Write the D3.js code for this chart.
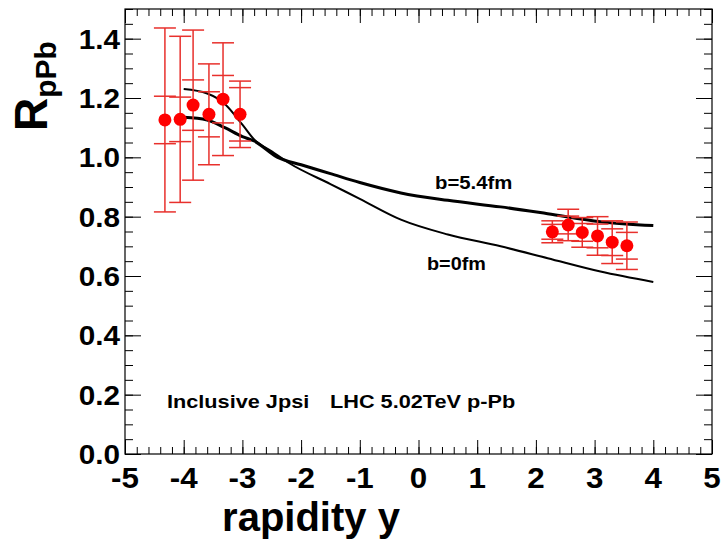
<!DOCTYPE html>
<html>
<head>
<meta charset="utf-8">
<script src="https://cdn.jsdelivr.net/npm/d3@7"></script>
<style>
  body { margin: 0; background: #fff; }
  text { font-family: "Liberation Sans", Arial, sans-serif; font-weight: bold; }
</style>
</head>
<body>
<div id="my_dataviz"></div>
<script>
// Data
var leftRap = [-4.32, -4.06, -3.84, -3.57, -3.33, -3.04];
var leftR = [1.126, 1.128, 1.176, 1.145, 1.196, 1.145];
var leftInner = [0.08, 0.075, 0.085, 0.076, 0.08, 0.09];
var leftOuter = [0.31, 0.28, 0.253, 0.17, 0.19, 0.112];

var rightRap = [2.28, 2.55, 2.79, 3.05, 3.30, 3.55];
var rightR = [0.749, 0.772, 0.747, 0.735, 0.714, 0.702];
var rightInner = [0.025, 0.03, 0.03, 0.04, 0.045, 0.045];
var rightOuter = [0.037, 0.053, 0.05, 0.065, 0.072, 0.08];

// model curves
var b0Rap = [-4, -3.6, -3.3, -3.0, -2.8, -2.5, -2.2, -1.5, -1, -0.3, 0.5, 1.4, 2.2, 3.1, 4];
var b0R = [1.23, 1.215, 1.18, 1.11, 1.06, 1.02, 0.98, 0.91, 0.86, 0.79, 0.74, 0.70, 0.66, 0.615, 0.58];
var b54Rap = [-4, -3.6, -3.3, -3.0, -2.8, -2.4, -2.0, -1.5, -1, -0.3, 0.5, 1.4, 2.2, 3.1, 4];
var b54R = [1.135, 1.126, 1.10, 1.07, 1.055, 1.0, 0.975, 0.945, 0.915, 0.88, 0.855, 0.833, 0.81, 0.783, 0.77];

var xTicks = [-5, -4, -3, -2, -1, 0, 1, 2, 3, 4, 5];
var yTicks = [0, 0.2, 0.4, 0.6, 0.8, 1.0, 1.2, 1.4];

// canvas and frame
var margin = { top: 9, right: 16, bottom: 90, left: 125 },
    width = 728 - margin.left - margin.right,
    height = 544 - margin.top - margin.bottom;

var root = d3.select("#my_dataviz")
    .append("svg")
    .attr("width", 728)
    .attr("height", 544);
var svg = root.append("g")
    .attr("transform", "translate(" + margin.left + "," + margin.top + ")");

var x = d3.scaleLinear().domain([-5, 5]).range([0, width]);
var y = d3.scaleLinear().domain([0, 1.5]).range([height, 0]);

// the original picture is a bit wider than tall, so text gets stretched sideways
function place(sel, px, py, sx) {
    return sel.attr("transform", "translate(" + px + "," + py + ") scale(" + sx + ",1)");
}

// ticks on all four sides, pointing inwards
function drawTicks(axisFn, scale, vals, size, transform) {
    svg.append("g")
        .attr("class", "ticks")
        .attr("transform", transform)
        .call(axisFn(scale).tickValues(vals).tickSize(size).tickFormat(""))
        .call(g => g.select(".domain").remove())
        .selectAll("line").attr("stroke", "#000").attr("stroke-width", 1);
}
var xMinor = d3.range(-5, 5.001, 0.2).map(v => +v.toFixed(2));
var yMinor = d3.range(0, 1.501, 0.05).map(v => +v.toFixed(2));
drawTicks(d3.axisTop, x, xMinor, 7, "translate(0," + height + ")");
drawTicks(d3.axisTop, x, xTicks, 14, "translate(0," + height + ")");
drawTicks(d3.axisBottom, x, xMinor, 7, "translate(0,0)");
drawTicks(d3.axisBottom, x, xTicks, 14, "translate(0,0)");
drawTicks(d3.axisRight, y, yMinor, 8, "translate(0,0)");
drawTicks(d3.axisRight, y, yTicks, 16, "translate(0,0)");
drawTicks(d3.axisLeft, y, yMinor, 8, "translate(" + width + ",0)");
drawTicks(d3.axisLeft, y, yTicks, 16, "translate(" + width + ",0)");

svg.append("rect")
    .attr("width", width)
    .attr("height", height)
    .attr("fill", "none")
    .attr("stroke", "#000")
    .attr("stroke-width", 1.2);

// tick labels
svg.selectAll(".xlab")
    .data(xTicks)
    .join("text")
    .attr("class", "xlab")
    .each(function (d) { place(d3.select(this), x(d), height + 34, 1.08); })
    .attr("text-anchor", "middle")
    .style("font-size", "29px")
    .text(d => d);

svg.selectAll(".ylab")
    .data(yTicks)
    .join("text")
    .attr("class", "ylab")
    .each(function (d) { place(d3.select(this), -5, y(d) + 10, 1.1); })
    .attr("text-anchor", "end")
    .style("font-size", "27px")
    .text(d => d3.format(".1f")(d));

// axis titles
root.append("text")
    .attr("x", 311)
    .attr("y", 531)
    .attr("text-anchor", "middle")
    .style("font-size", "40px")
    .text("rapidity y");

var yt = root.append("text")
    .attr("transform", "translate(47,86) rotate(-90)")
    .attr("text-anchor", "middle");
yt.append("tspan").style("font-size", "46px").text("R");
yt.append("tspan").attr("dy", 9).style("font-size", "30px").text("pPb");

// model curves
var line = d3.line()
    .x(d => x(d[0]))
    .y(d => y(d[1]))
    .curve(d3.curveMonotoneX);

svg.append("path")
    .datum(d3.zip(b0Rap, b0R))
    .attr("d", line)
    .attr("fill", "none")
    .attr("stroke", "#000")
    .attr("stroke-width", 2);
svg.append("path")
    .datum(d3.zip(b54Rap, b54R))
    .attr("d", line)
    .attr("fill", "none")
    .attr("stroke", "#000")
    .attr("stroke-width", 3);

// data points with two sets of error bars
var points = d3.zip(leftRap, leftR, leftInner, leftOuter)
    .concat(d3.zip(rightRap, rightR, rightInner, rightOuter));
var capW = 11;
var eb = svg.append("g").attr("stroke", "#e8302c").attr("stroke-width", 1.5);
eb.selectAll(".vbar")
    .data(points)
    .join("line")
    .attr("x1", d => x(d[0])).attr("x2", d => x(d[0]))
    .attr("y1", d => y(d[1] + d[3])).attr("y2", d => y(d[1] - d[3]));
var caps = [];
points.forEach(d => {
    caps.push([d[0], d[1] + d[2]], [d[0], d[1] - d[2]], [d[0], d[1] + d[3]], [d[0], d[1] - d[3]]);
});
eb.selectAll(".cap")
    .data(caps)
    .join("line")
    .attr("x1", d => x(d[0]) - capW).attr("x2", d => x(d[0]) + capW)
    .attr("y1", d => y(d[1])).attr("y2", d => y(d[1]));

svg.selectAll("circle")
    .data(points)
    .join("circle")
    .attr("cx", d => x(d[0]))
    .attr("cy", d => y(d[1]))
    .attr("r", 6.5)
    .attr("fill", "#ff0000");

// annotations
place(root.append("text"), 435, 189, 1.13).style("font-size", "18px").text("b=5.4fm");
place(root.append("text"), 427, 270, 1.1).style("font-size", "18px").text("b=0fm");
place(root.append("text"), 167, 408, 1.24).style("font-size", "17.5px").text("Inclusive Jpsi");
place(root.append("text"), 330, 408, 1.24).style("font-size", "17.5px").text("LHC 5.02TeV p-Pb");
</script>
</body>
</html>
